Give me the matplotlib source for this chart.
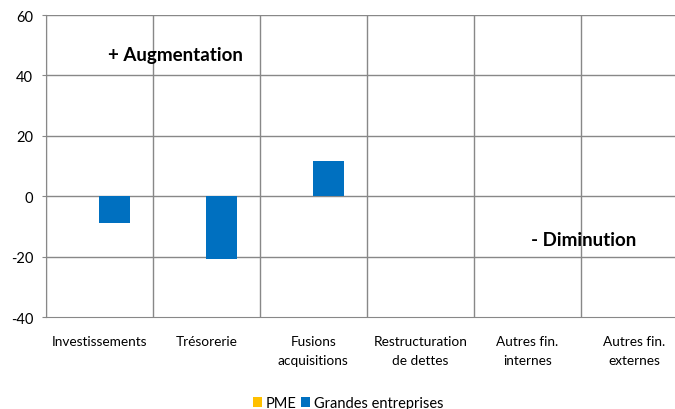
import numpy as np
import matplotlib.pyplot as plt

# data
categories = ['Investissements', 'Trésorerie', 'Fusions\nacquisitions',
              'Restructuration\nde dettes', 'Autres fin.\ninternes', 'Autres fin.\nexternes']
pme = [0, 0, 0, 0, 0, 0]
grandes = [-9, -20.7, 11.6, 0, 0, 0]
series_names = ['PME', 'Grandes entreprises']
colors = ['#FFC000', '#0070C0']

plt.rcParams['font.family'] = ['Lato', 'DejaVu Sans']
plt.rcParams['axes.unicode_minus'] = False

fig = plt.figure(figsize=(6.75, 4.1), dpi=100)
# axes run a bit past the right edge, like the original
ax = fig.add_axes([45.7 / 675, 92 / 410, 642 / 675, 302 / 410])

x = np.arange(len(categories))
w = 0.287
ax.bar(x - w / 2, pme, width=w, color=colors[0], label=series_names[0], zorder=3)
ax.bar(x + w / 2, grandes, width=w, color=colors[1], label=series_names[1], zorder=3)

ax.set_xlim(-0.5, len(categories) - 0.5)
ax.set_ylim(-40, 60)
ax.set_yticks([-40, -20, 0, 20, 40, 60])
ax.set_xticks(x)
ax.set_xticklabels(categories, fontsize=9.8, linespacing=1.65)
ax.tick_params(axis='x', length=0, pad=13)
ax.tick_params(axis='y', length=3, color='#888888', labelsize=10.5, pad=6)

# grid: horizontal at ticks, vertical at category boundaries
for yv in [-20, 0, 20, 40, 60]:
    ax.axhline(yv, color='#888888', linewidth=1, zorder=1)
for xv in np.arange(-0.5, len(categories), 1):
    ax.axvline(xv, color='#888888', linewidth=1, zorder=1)
for s in ['top', 'right']:
    ax.spines[s].set_visible(False)
ax.spines['left'].set_color('#888888')
ax.spines['bottom'].set_color('#888888')

ax.text(0.71, 46.8, '+ Augmentation', fontsize=13.5, fontweight='bold',
        ha='center', va='center', zorder=4)
ax.text(4.53, -14.5, '- Diminution', fontsize=13.5, fontweight='bold',
        ha='center', va='center', zorder=4)

fig.legend(loc='lower center', bbox_to_anchor=(348 / 675, -0.035), ncol=2,
           frameon=False, fontsize=10.5, handlelength=0.65, handleheight=0.65,
           handletextpad=0.25, columnspacing=0.3)

fig.savefig('out.png', dpi=100)
